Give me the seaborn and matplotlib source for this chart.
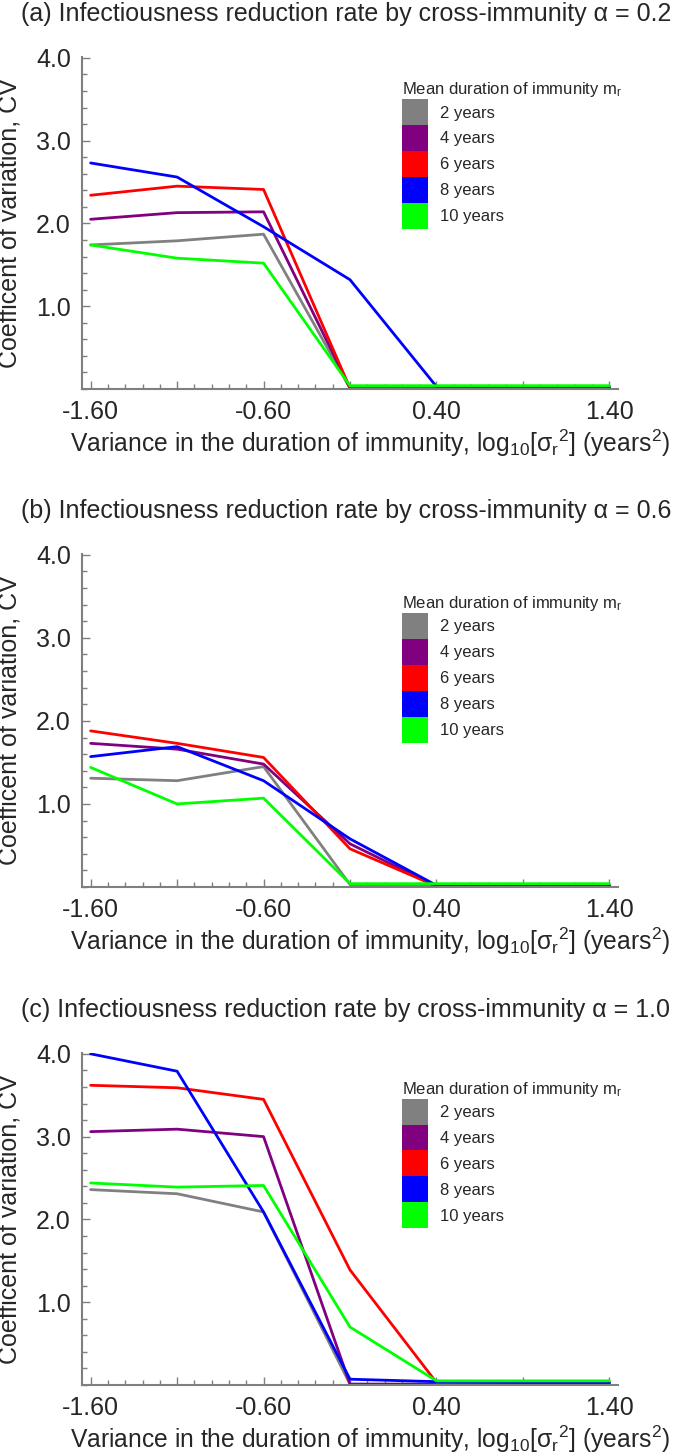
import numpy as np
import pandas as pd
import seaborn as sns
import matplotlib.pyplot as plt
from matplotlib.patches import Patch
from matplotlib.legend_handler import HandlerPatch
from matplotlib.ticker import MultipleLocator

# x: log10 of the variance in the duration of immunity
log_var = [-1.6, -1.1, -0.6, -0.1, 0.4, 0.9, 1.4]
durations = ["2 years", "4 years", "6 years", "8 years", "10 years"]
colors = ["#808080", "#800080", "#ff0000", "#0000ff", "#00ff00"]
alphas = ["0.2", "0.6", "1.0"]
x_ticklabels = ["-1.60", "", "-0.60", "", "0.40", "", "1.40"]

# coefficient of variation, one list per mean duration
cv_a = {
    "2 years": [1.74, 1.79, 1.87, 0.01, 0.01, 0.01, 0.01],
    "4 years": [2.05, 2.13, 2.14, 0.01, 0.01, 0.01, 0.01],
    "6 years": [2.34, 2.45, 2.41, 0.01, 0.01, 0.01, 0.01],
    "8 years": [2.73, 2.56, 1.96, 1.32, 0.03, 0.03, 0.03],
    "10 years": [1.74, 1.58, 1.52, 0.04, 0.04, 0.04, 0.04],
}
cv_b = {
    "2 years": [1.31, 1.28, 1.45, 0.03, 0.02, 0.02, 0.02],
    "4 years": [1.73, 1.66, 1.48, 0.52, 0.01, 0.01, 0.01],
    "6 years": [1.88, 1.73, 1.56, 0.46, 0.01, 0.01, 0.01],
    "8 years": [1.57, 1.69, 1.28, 0.58, 0.02, 0.02, 0.02],
    "10 years": [1.44, 1.00, 1.07, 0.04, 0.04, 0.04, 0.04],
}
cv_c = {
    "2 years": [2.36, 2.31, 2.09, 0.01, 0.01, 0.01, 0.01],
    "4 years": [3.06, 3.09, 3.00, 0.01, 0.01, 0.01, 0.01],
    "6 years": [3.62, 3.59, 3.45, 1.39, 0.03, 0.02, 0.02],
    "8 years": [4.00, 3.79, 2.09, 0.07, 0.04, 0.03, 0.03],
    "10 years": [2.44, 2.39, 2.41, 0.70, 0.05, 0.05, 0.05],
}

sns.set_style("white")
plt.rcParams["font.family"] = ["Liberation Sans", "DejaVu Sans"]
plt.rcParams["mathtext.default"] = "regular"

W, H = 675, 1453
fig = plt.figure(figsize=(W / 100, H / 100), dpi=100)

# axes boxes in pixels: left, top (y=4), right, bottom (y=0)
boxes = [(82, 57, 618, 389), (82, 554, 618, 887), (82, 1053, 618, 1385)]
legend_y = [0.93, 0.88, 0.92]
titles_y = [14, 511, 1010]

for i, (cv, alpha) in enumerate(zip([cv_a, cv_b, cv_c], alphas)):
    l, t, r, b = boxes[i]
    ax = fig.add_axes([l / W, 1 - b / H, (r - l) / W, (b - t) / H])

    df = pd.DataFrame(
        [(x, v, d) for d in durations for x, v in zip(log_var, cv[d])],
        columns=["log_var", "cv", "duration"],
    )
    sns.lineplot(data=df, x="log_var", y="cv", hue="duration",
                 hue_order=durations, palette=colors, linewidth=2,
                 legend=False, ax=ax)

    ax.set_xlim(-1.65, 1.45)
    ax.set_ylim(0, 4.01)
    ax.set_xticks(log_var)
    ax.set_xticklabels(x_ticklabels)
    ax.xaxis.set_minor_locator(MultipleLocator(0.1))
    ax.set_yticks([1, 2, 3, 4])
    ax.set_yticklabels(["1.0", "2.0", "3.0", "4.0"])
    ax.yaxis.set_minor_locator(MultipleLocator(0.2))
    ax.tick_params(which="both", direction="in", color="#7f7f7f", width=1,
                   labelsize=18, bottom=True, left=True)
    ax.tick_params(which="major", length=6, pad=8)
    ax.tick_params(which="minor", length=3.5)
    for side in ["top", "right"]:
        ax.spines[side].set_visible(False)
    for side in ["left", "bottom"]:
        ax.spines[side].set_color("#7f7f7f")
        ax.spines[side].set_linewidth(1.5)

    ax.set_xlabel("Variance in the duration of immunity, "
                  "log$_{10}$[σ$_r$$^2$] (years$^2$)", fontsize=17.7)
    ax.xaxis.set_label_coords(0.537, -0.115)
    ax.set_ylabel("Coefficent of variation, CV", fontsize=18)
    ax.yaxis.set_label_coords(-0.113, 0.5)

    handles = [Patch(facecolor=c, edgecolor="none") for c in colors]
    ax.legend(handles, durations, title="Mean duration of immunity m$_r$",
              handler_map={Patch: HandlerPatch(ypad=0)},
              loc="upper left", bbox_to_anchor=(0.597, legend_y[i]),
              frameon=False, fontsize=12, title_fontsize=12,
              handlelength=1.56, handleheight=2.02, labelspacing=0,
              handletextpad=0.7, borderaxespad=0, borderpad=0,
              alignment="left")

    fig.text(21 / W, 1 - titles_y[i] / H,
             f"({'abc'[i]}) Infectiousness reduction rate by cross-immunity α = {alpha}",
             fontsize=18, ha="left", va="center")

fig.savefig("out.png", dpi=100)
